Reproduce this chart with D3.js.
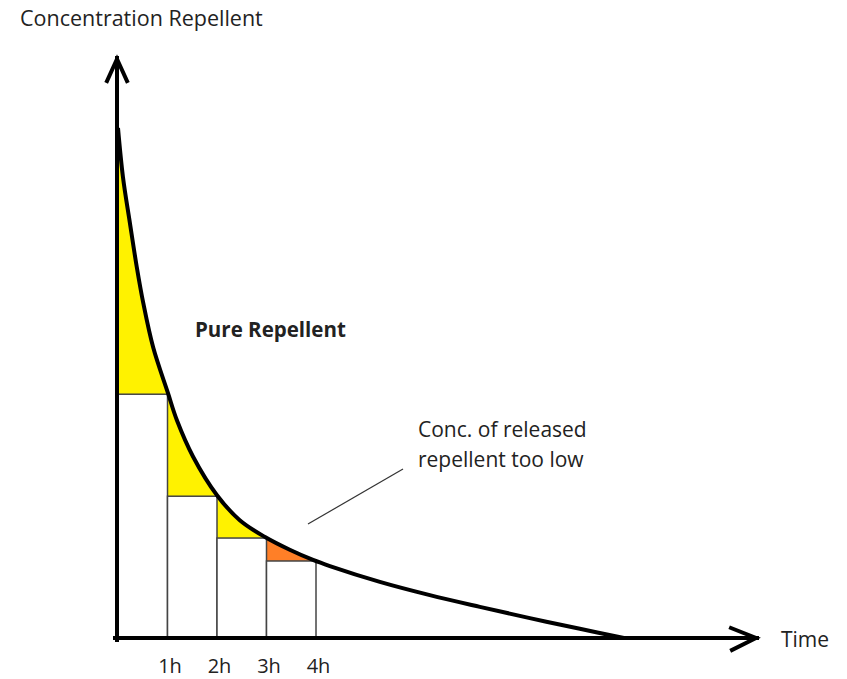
<!DOCTYPE html>
<html lang="en">
<head>
    <meta charset="UTF-8">
    <title>Concentration Repellent</title>
    <script src="https://d3js.org/d3.v7.min.js"></script>
</head>
<style>
    body { margin: 0; background: #fff; }
    text { font-family: "Open Sans", "Liberation Sans", sans-serif; fill: #222; font-size: 21px; }
</style>
<body>
    <div id="chart"></div>
    <script>
        // curve: time in hours, concentration in % of start
        const curveTimes = [0, 0.10, 0.24, 0.38, 0.51, 0.71, 1.01, 1.19, 1.52, 2.00, 2.46, 2.97, 3.47, 3.94, 4.28, 5.29, 6.30, 7.31, 8.32, 9.33, 10.22];
        const curveConc = [100, 90.4, 81.4, 72.7, 65.7, 57.0, 48.0, 42.7, 35.5, 28.0, 23.1, 19.8, 17.3, 15.3, 14.1, 11.0, 8.4, 6.1, 3.9, 1.8, 0];

        // released amount per hour (bar tops)
        const hours = [1, 2, 3, 4];
        const hourLabels = ["1h", "2h", "3h", "4h"];
        const barConc = [47.8, 27.8, 19.6, 15.1];
        const gapColors = ["#fff200", "#fff200", "#fff200", "#ff7f27"];

        const width = 847, height = 679;
        const x = d3.scaleLinear().domain([0, 13]).range([118, 761.5]);
        const y = d3.scaleLinear().domain([0, 100]).range([638, 128]);

        const svg = d3.select("#chart").append("svg")
            .attr("width", width)
            .attr("height", height);

        const pts = curveTimes.map((t, i) => ({ t: t, c: curveConc[i] }));

        const area = d3.area()
            .x(d => x(d.t))
            .y0(y(0))
            .y1(d => y(d.c))
            .curve(d3.curveCatmullRom.alpha(0.5));

        const line = d3.line()
            .x(d => x(d.t))
            .y(d => y(d.c))
            .curve(d3.curveCatmullRom.alpha(0.5));

        const start = (i) => i === 0 ? 0 : hours[i - 1];

        // clip paths, one per hour
        const defs = svg.append("defs");
        hours.forEach((h, i) => {
            defs.append("clipPath").attr("id", "clip" + i)
                .append("rect")
                .attr("x", x(start(i)))
                .attr("y", 0)
                .attr("width", x(h) - x(start(i)))
                .attr("height", height);
        });

        // coloured gap between curve and released amount
        hours.forEach((h, i) => {
            svg.append("path")
                .datum(pts)
                .attr("clip-path", "url(#clip" + i + ")")
                .attr("fill", gapColors[i])
                .attr("d", area);
        });

        // bars
        svg.selectAll(".bar")
            .data(hours)
            .enter().append("rect")
            .attr("class", "bar")
            .attr("x", (d, i) => x(start(i)))
            .attr("y", (d, i) => y(barConc[i]))
            .attr("width", (d, i) => x(d) - x(start(i)))
            .attr("height", (d, i) => y(0) - y(barConc[i]))
            .attr("fill", "#fff")
            .attr("stroke", "#444")
            .attr("stroke-width", 1.5);

        // curve
        svg.append("path")
            .datum(pts)
            .attr("fill", "none")
            .attr("stroke", "#000")
            .attr("stroke-width", 4)
            .attr("d", line);

        // axes with arrows
        const x0 = x(0) - 1, y0 = y(0);
        const axis = svg.append("g")
            .attr("stroke", "#000")
            .attr("stroke-width", 4)
            .attr("fill", "none")
            .attr("stroke-linecap", "square");
        axis.append("line").attr("x1", x0 - 2).attr("y1", y0).attr("x2", 757).attr("y2", y0);
        axis.append("line").attr("x1", x0).attr("y1", y0 + 2).attr("x2", x0).attr("y2", 58);
        axis.append("path").attr("d", `M${x0 - 10},81 L${x0},59 L${x0 + 10},81`);
        axis.append("path").attr("d", `M731,628 L756,${y0} L732,650`);

        // tick labels
        const xAxis = d3.axisBottom(x)
            .tickValues(hours)
            .tickSize(0)
            .tickPadding(0)
            .tickFormat((d, i) => hourLabels[i]);
        const gx = svg.append("g")
            .attr("transform", "translate(2,673)")
            .call(xAxis);
        gx.select(".domain").remove();
        gx.selectAll("text")
            .attr("dy", 0)
            .attr("fill", "#222")
            .style("font-size", "20px")
            .style("font-family", "\"Open Sans\", sans-serif");

        // titles and notes
        svg.append("text")
            .attr("x", 20).attr("y", 26)
            .style("font-size", "21.5px")
            .text("Concentration Repellent");

        svg.append("text")
            .attr("x", 781).attr("y", 647)
            .text("Time");

        svg.append("text")
            .attr("x", 195).attr("y", 337)
            .style("font-size", "20.5px")
            .style("font-weight", "bold")
            .text("Pure Repellent");

        svg.append("line")
            .attr("x1", 308).attr("y1", 524)
            .attr("x2", 403).attr("y2", 469)
            .attr("stroke", "#333")
            .attr("stroke-width", 1.2);

        const note = svg.append("text")
            .attr("x", 418).attr("y", 437);
        note.append("tspan").attr("x", 418).text("Conc. of released");
        note.append("tspan").attr("x", 418).attr("dy", 30).text("repellent too low");
    </script>
</body>
</html>
